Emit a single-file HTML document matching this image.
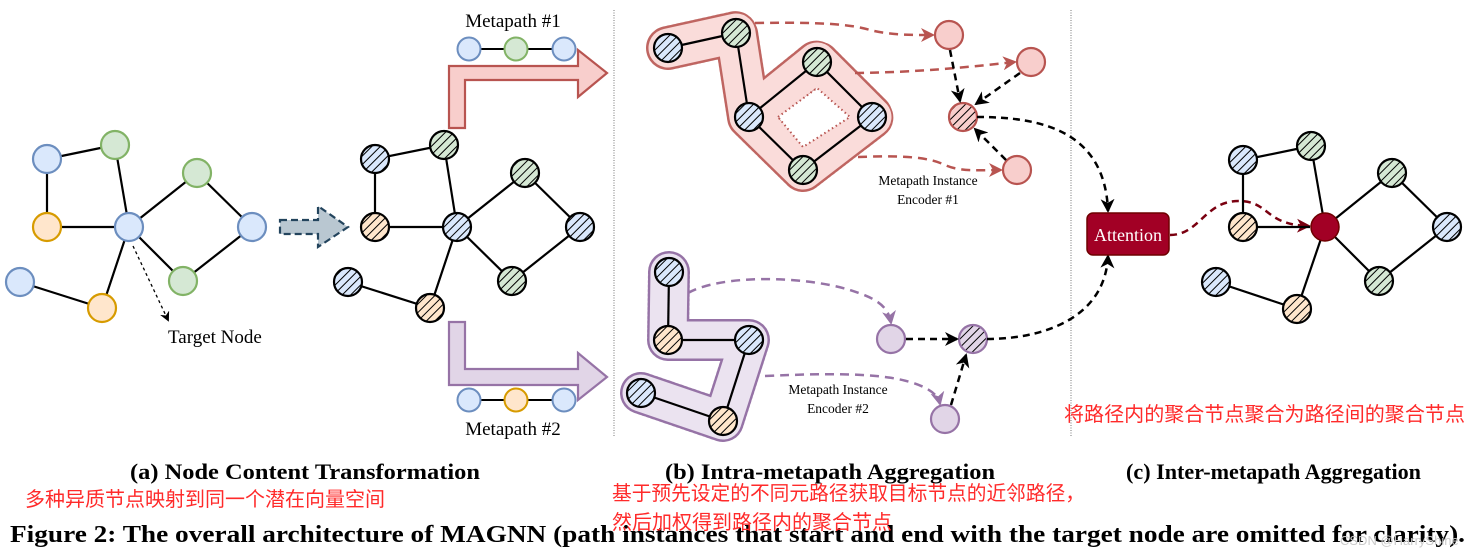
<!DOCTYPE html>
<html><head><meta charset="utf-8"><style>
html,body{margin:0;padding:0;background:#fff;}
svg{display:block;}
.s{font-family:"Liberation Serif",serif;}
.cn{font-family:"Liberation Sans","Noto Sans CJK SC",sans-serif;fill:#ff2a2a;font-size:20px;}
</style></head><body>
<svg width="1475" height="558" viewBox="0 0 1475 558" xmlns="http://www.w3.org/2000/svg">
<defs>
<pattern id="hb" width="6" height="6" patternUnits="userSpaceOnUse" patternTransform="rotate(45)"><rect width="6" height="6" fill="#dae8fc"/><line x1="0" y1="0" x2="0" y2="6" stroke="#000" stroke-width="2"/></pattern>
<pattern id="hg" width="6" height="6" patternUnits="userSpaceOnUse" patternTransform="rotate(45)"><rect width="6" height="6" fill="#d5e8d4"/><line x1="0" y1="0" x2="0" y2="6" stroke="#000" stroke-width="2"/></pattern>
<pattern id="ho" width="6" height="6" patternUnits="userSpaceOnUse" patternTransform="rotate(45)"><rect width="6" height="6" fill="#ffe6cc"/><line x1="0" y1="0" x2="0" y2="6" stroke="#000" stroke-width="2"/></pattern>
<pattern id="hr" width="6" height="6" patternUnits="userSpaceOnUse" patternTransform="rotate(45)"><rect width="6" height="6" fill="#f8cecc"/><line x1="0" y1="0" x2="0" y2="6" stroke="#000" stroke-width="2"/></pattern>
<pattern id="hp" width="6" height="6" patternUnits="userSpaceOnUse" patternTransform="rotate(45)"><rect width="6" height="6" fill="#e1d5e7"/><line x1="0" y1="0" x2="0" y2="6" stroke="#000" stroke-width="2"/></pattern>
<marker id="ak" markerWidth="14" markerHeight="14" refX="12" refY="7" orient="auto" markerUnits="userSpaceOnUse"><path d="M0,0 L14,7 L0,14 L4,7z" fill="#000"/></marker>
<marker id="ak2" markerWidth="10" markerHeight="10" refX="8" refY="5" orient="auto" markerUnits="userSpaceOnUse"><path d="M0,0 L10,5 L0,10 L3,5z" fill="#000"/></marker>
<marker id="ar" markerWidth="14" markerHeight="14" refX="12" refY="7" orient="auto" markerUnits="userSpaceOnUse"><path d="M0,0 L14,7 L0,14 L4,7z" fill="#b85450"/></marker>
<marker id="ap" markerWidth="14" markerHeight="14" refX="12" refY="7" orient="auto" markerUnits="userSpaceOnUse"><path d="M0,0 L14,7 L0,14 L4,7z" fill="#9673a6"/></marker>
<marker id="ad" markerWidth="14" markerHeight="14" refX="12" refY="7" orient="auto" markerUnits="userSpaceOnUse"><path d="M0,0 L14,7 L0,14 L4,7z" fill="#7a0010"/></marker>
</defs>

<line x1="614" y1="10" x2="614" y2="437" stroke="#777" stroke-dasharray="1,1.5"/>
<line x1="1071" y1="10" x2="1071" y2="437" stroke="#777" stroke-dasharray="1,1.5"/>

<g stroke="#000" stroke-width="2.2">
<line x1="47" y1="159" x2="115" y2="145"/><line x1="47" y1="159" x2="47" y2="227"/>
<line x1="47" y1="227" x2="129" y2="227"/><line x1="115" y1="145" x2="129" y2="227"/>
<line x1="129" y1="227" x2="197" y2="173"/><line x1="197" y1="173" x2="252" y2="227"/>
<line x1="252" y1="227" x2="183" y2="281"/><line x1="183" y1="281" x2="129" y2="227"/>
<line x1="129" y1="227" x2="102" y2="308"/><line x1="102" y1="308" x2="20" y2="282"/>
</g>
<g stroke-width="2.2">
<circle cx="47" cy="159" r="14" fill="#dae8fc" stroke="#6c8ebf"/>
<circle cx="115" cy="145" r="14" fill="#d5e8d4" stroke="#82b366"/>
<circle cx="47" cy="227" r="14" fill="#ffe6cc" stroke="#d79b00"/>
<circle cx="129" cy="227" r="14" fill="#dae8fc" stroke="#6c8ebf"/>
<circle cx="197" cy="173" r="14" fill="#d5e8d4" stroke="#82b366"/>
<circle cx="252" cy="227" r="14" fill="#dae8fc" stroke="#6c8ebf"/>
<circle cx="183" cy="281" r="14" fill="#d5e8d4" stroke="#82b366"/>
<circle cx="20" cy="282" r="14" fill="#dae8fc" stroke="#6c8ebf"/>
<circle cx="102" cy="308" r="14" fill="#ffe6cc" stroke="#d79b00"/>
</g>
<line x1="133" y1="246" x2="168" y2="320" stroke="#000" stroke-width="1.3" stroke-dasharray="3,3" marker-end="url(#ak2)"/>
<text x="168" y="343" class="s" font-size="19">Target Node</text>

<path d="M280,220 L318,220 L318,206 L348,227 L318,247 L318,234 L280,234z" fill="#b9c7d1" stroke="#23445d" stroke-width="2.2" stroke-dasharray="7,4"/>

<g stroke="#000" stroke-width="2.2">
<line x1="375" y1="159" x2="444" y2="145"/><line x1="375" y1="159" x2="375" y2="227"/>
<line x1="375" y1="227" x2="457" y2="227"/><line x1="444" y1="145" x2="457" y2="227"/>
<line x1="457" y1="227" x2="525" y2="173"/><line x1="525" y1="173" x2="580" y2="227"/>
<line x1="580" y1="227" x2="512" y2="281"/><line x1="512" y1="281" x2="457" y2="227"/>
<line x1="457" y1="227" x2="430" y2="308"/><line x1="430" y1="308" x2="348" y2="282"/>
</g>
<g stroke="#000" stroke-width="2.2">
<circle cx="375" cy="159" r="14" fill="url(#hb)"/>
<circle cx="444" cy="145" r="14" fill="url(#hg)"/>
<circle cx="375" cy="227" r="14" fill="url(#ho)"/>
<circle cx="457" cy="227" r="14" fill="url(#hb)"/>
<circle cx="525" cy="173" r="14" fill="url(#hg)"/>
<circle cx="580" cy="227" r="14" fill="url(#hb)"/>
<circle cx="512" cy="281" r="14" fill="url(#hg)"/>
<circle cx="348" cy="282" r="14" fill="url(#hb)"/>
<circle cx="430" cy="308" r="14" fill="url(#ho)"/>
</g>

<path d="M449,128 L449,66 L578,66 L578,50 L607,73 L578,97 L578,80 L465,80 L465,128z" fill="#f8cecc" stroke="#b85450" stroke-width="2.2"/>
<path d="M449,322 L449,385 L578,385 L578,400 L607,377 L578,353 L578,369 L465,369 L465,322z" fill="#e1d5e7" stroke="#9673a6" stroke-width="2.2"/>
<text x="513" y="27" class="s" font-size="19" text-anchor="middle">Metapath #1</text>
<line x1="469" y1="49" x2="564" y2="49" stroke="#000" stroke-width="2"/>
<circle cx="469" cy="49" r="11.5" fill="#dae8fc" stroke="#6c8ebf" stroke-width="2"/>
<circle cx="516" cy="49" r="11.5" fill="#d5e8d4" stroke="#82b366" stroke-width="2"/>
<circle cx="564" cy="49" r="11.5" fill="#dae8fc" stroke="#6c8ebf" stroke-width="2"/>
<line x1="469" y1="400" x2="564" y2="400" stroke="#000" stroke-width="2"/>
<circle cx="469" cy="400" r="11.5" fill="#dae8fc" stroke="#6c8ebf" stroke-width="2"/>
<circle cx="516" cy="400" r="11.5" fill="#ffe6cc" stroke="#d79b00" stroke-width="2"/>
<circle cx="564" cy="400" r="11.5" fill="#dae8fc" stroke="#6c8ebf" stroke-width="2"/>
<text x="513" y="435" class="s" font-size="19" text-anchor="middle">Metapath #2</text>

<g fill="none" stroke-linecap="round" stroke-linejoin="round">
<path d="M668,48 L736,33 L749,117 L803,170 L872,117 L817,62 L749,117" stroke="#b85450" stroke-width="44" stroke-dasharray="1.5,3" opacity="0.9"/>
<path d="M668,48 L736,33 L749,117 L803,170 L872,117 L817,62 L749,117" stroke="#fadcda" stroke-width="39"/>
</g>
<path d="M778,117 L817,88 L850,117 L803,147z" fill="#fff" stroke="#b85450" stroke-width="2" stroke-dasharray="1.5,3" stroke-linejoin="round"/>
<g fill="none" stroke-linecap="round" stroke-linejoin="round">
<path d="M669,272 L668,340 L749,340 L723,421 L641,393" stroke="#9673a6" stroke-width="42" stroke-dasharray="1.5,3"/>
<path d="M669,272 L668,340 L749,340 L723,421 L641,393" stroke="#ebe3f0" stroke-width="37"/>
</g>
<g stroke="#000" stroke-width="2.2">
<line x1="668" y1="48" x2="736" y2="33"/><line x1="736" y1="33" x2="749" y2="117"/>
<line x1="749" y1="117" x2="817" y2="62"/><line x1="817" y1="62" x2="872" y2="117"/>
<line x1="872" y1="117" x2="803" y2="170"/><line x1="803" y1="170" x2="749" y2="117"/>
<line x1="669" y1="272" x2="668" y2="340"/><line x1="668" y1="340" x2="749" y2="340"/>
<line x1="749" y1="340" x2="723" y2="421"/><line x1="723" y1="421" x2="641" y2="393"/>
</g>
<g stroke="#000" stroke-width="2.2">
<circle cx="668" cy="48" r="14" fill="url(#hb)"/>
<circle cx="736" cy="33" r="14" fill="url(#hg)"/>
<circle cx="817" cy="62" r="14" fill="url(#hg)"/>
<circle cx="749" cy="117" r="14" fill="url(#hb)"/>
<circle cx="872" cy="117" r="14" fill="url(#hb)"/>
<circle cx="803" cy="170" r="14" fill="url(#hg)"/>
<circle cx="669" cy="272" r="14" fill="url(#hb)"/>
<circle cx="668" cy="340" r="14" fill="url(#ho)"/>
<circle cx="749" cy="340" r="14" fill="url(#hb)"/>
<circle cx="641" cy="393" r="14" fill="url(#hb)"/>
<circle cx="723" cy="421" r="14" fill="url(#ho)"/>
</g>
<g fill="none" stroke="#b85450" stroke-width="2.5" stroke-dasharray="9,6">
<path d="M755,23 C820,22 850,24 870,30 C890,35 910,35 933,35" marker-end="url(#ar)"/>
<path d="M855,73 C920,72 960,68 1015,62" marker-end="url(#ar)"/>
<path d="M858,157 C910,155 930,158 945,165 C960,172 980,170 1001,170" marker-end="url(#ar)"/>
</g>
<g fill="none" stroke="#9673a6" stroke-width="2.5" stroke-dasharray="9,6">
<path d="M688,293 C720,275 800,275 850,290 C875,298 888,305 891,323" marker-end="url(#ap)"/>
<path d="M765,376 C830,373 880,373 910,382 C930,388 938,395 940,404" marker-end="url(#ap)"/>
</g>
<g stroke-width="2.2">
<circle cx="949" cy="35" r="14" fill="#f8cecc" stroke="#b85450"/>
<circle cx="1031" cy="62" r="14" fill="#f8cecc" stroke="#b85450"/>
<circle cx="1017" cy="170" r="14" fill="#f8cecc" stroke="#b85450"/>
<circle cx="963" cy="117" r="14" fill="url(#hr)" stroke="#b85450"/>
<circle cx="891" cy="339" r="14" fill="#e1d5e7" stroke="#9673a6"/>
<circle cx="945" cy="419" r="14" fill="#e1d5e7" stroke="#9673a6"/>
<circle cx="973" cy="339" r="14" fill="url(#hp)" stroke="#9673a6"/>
</g>
<g fill="none" stroke="#000" stroke-width="2.5" stroke-dasharray="7,5">
<path d="M950,50 L960,101" marker-end="url(#ak)"/>
<path d="M1020,73 L976,104" marker-end="url(#ak)"/>
<path d="M1006,160 L975,129" marker-end="url(#ak)"/>
<path d="M906,339 L957,339" marker-end="url(#ak)"/>
<path d="M951,405 L966,355" marker-end="url(#ak)"/>
<path d="M977,117 C1040,117 1105,130 1108,211" marker-end="url(#ak)"/>
<path d="M987,339 C1040,339 1105,320 1108,256" marker-end="url(#ak)"/>
</g>
<text x="928" y="185" class="s" font-size="13.5" text-anchor="middle">Metapath Instance</text>
<text x="928" y="204" class="s" font-size="13.5" text-anchor="middle">Encoder #1</text>
<text x="838" y="394" class="s" font-size="13.5" text-anchor="middle">Metapath Instance</text>
<text x="838" y="413" class="s" font-size="13.5" text-anchor="middle">Encoder #2</text>

<rect x="1087" y="213" width="82" height="42" rx="6" fill="#a20025" stroke="#6f0000" stroke-width="1.5"/>
<text x="1128" y="241" class="s" font-size="18" fill="#fff" text-anchor="middle">Attention</text>
<path d="M1170,235 C1200,235 1205,200 1240,201 C1270,202 1265,225 1309,226" fill="none" stroke="#7a0010" stroke-width="2.5" stroke-dasharray="7,5" marker-end="url(#ad)"/>

<g stroke="#000" stroke-width="2.2">
<line x1="1243" y1="160" x2="1311" y2="146"/><line x1="1243" y1="160" x2="1243" y2="227"/>
<line x1="1243" y1="227" x2="1310" y2="227"/><line x1="1311" y1="146" x2="1325" y2="227"/>
<line x1="1325" y1="227" x2="1392" y2="173"/><line x1="1392" y1="173" x2="1447" y2="227"/>
<line x1="1447" y1="227" x2="1379" y2="281"/><line x1="1379" y1="281" x2="1325" y2="227"/>
<line x1="1325" y1="227" x2="1297" y2="309"/><line x1="1297" y1="309" x2="1216" y2="282"/>
</g>
<g stroke="#000" stroke-width="2.2">
<circle cx="1243" cy="160" r="14" fill="url(#hb)"/>
<circle cx="1311" cy="146" r="14" fill="url(#hg)"/>
<circle cx="1243" cy="227" r="14" fill="url(#ho)"/>
<circle cx="1392" cy="173" r="14" fill="url(#hg)"/>
<circle cx="1447" cy="227" r="14" fill="url(#hb)"/>
<circle cx="1379" cy="281" r="14" fill="url(#hg)"/>
<circle cx="1216" cy="282" r="14" fill="url(#hb)"/>
<circle cx="1297" cy="309" r="14" fill="url(#ho)"/>
</g>
<circle cx="1325" cy="227" r="14" fill="#a20025" stroke="#6f0000" stroke-width="1.5"/>

<text x="130" y="479" class="s" font-size="22" font-weight="bold" textLength="350" lengthAdjust="spacingAndGlyphs">(a) Node Content Transformation</text>
<text x="665" y="479" class="s" font-size="22" font-weight="bold" textLength="330" lengthAdjust="spacingAndGlyphs">(b) Intra-metapath Aggregation</text>
<text x="1126" y="479" class="s" font-size="22" font-weight="bold" textLength="295" lengthAdjust="spacingAndGlyphs">(c) Inter-metapath Aggregation</text>
<text x="1064" y="421" class="cn" textLength="401" lengthAdjust="spacingAndGlyphs">将路径内的聚合节点聚合为路径间的聚合节点</text>
<text x="25" y="506" class="cn" textLength="360" lengthAdjust="spacingAndGlyphs">多种异质节点映射到同一个潜在向量空间</text>
<text x="612" y="500" class="cn" textLength="473" lengthAdjust="spacingAndGlyphs">基于预先设定的不同元路径获取目标节点的近邻路径，</text>
<text x="10" y="542" class="s" font-size="24.5" font-weight="bold" textLength="1455" lengthAdjust="spacingAndGlyphs">Figure 2: The overall architecture of MAGNN (path instances that start and end with the target node are omitted for clarity).</text>
<text x="612" y="529" class="cn">然后加权得到路径内的聚合节点</text>
<text x="1340" y="545" font-family="Liberation Sans,sans-serif" font-size="13" fill="#ccc">CSDN @HarryShine</text>
</svg>
</body></html>
